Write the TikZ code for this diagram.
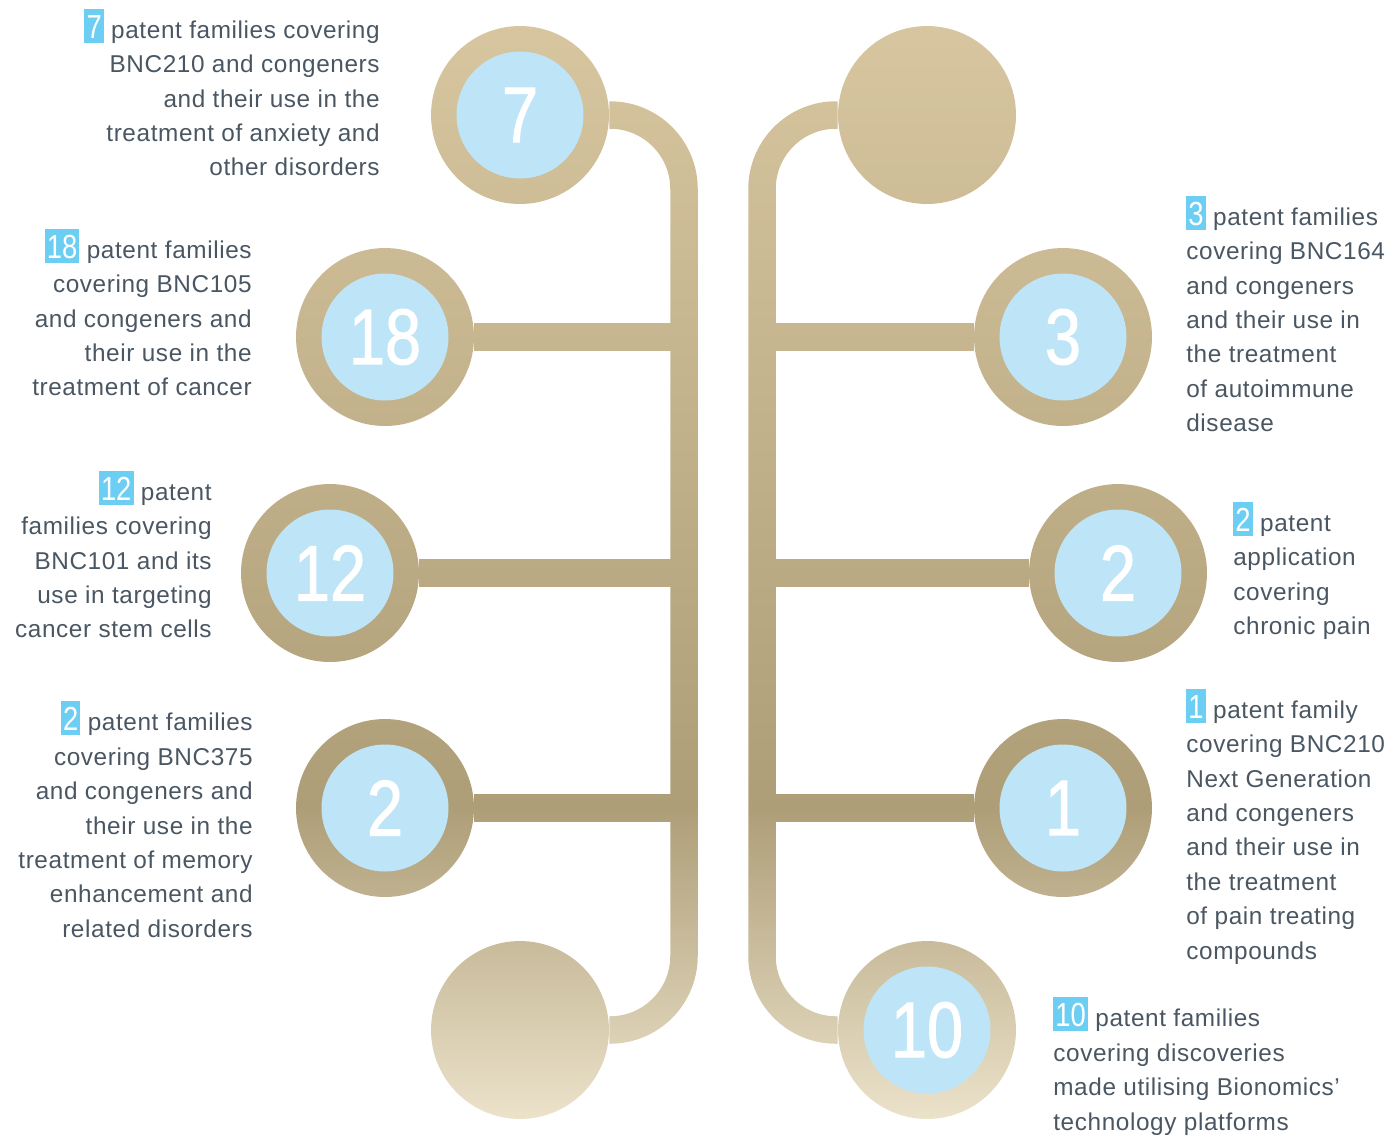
\documentclass[tikz,border=0pt]{standalone}
\usepackage{fontspec}
\setmainfont{Liberation Sans}[LetterSpace=2.5]
\newfontfamily\numfont{Liberation Sans}[FakeStretch=0.82]
\newfontfamily\bignumfont{Liberation Sans}[FakeStretch=0.82, FakeBold=1.2]

\definecolor{tantop}{HTML}{D8C7A1}
\definecolor{tanmid}{HTML}{AE9E78}
\definecolor{tanbot}{HTML}{EFE6CF}
\definecolor{coreblue}{HTML}{BEE5F7}
\definecolor{hlblue}{HTML}{6DCEF4}
\definecolor{inkgray}{HTML}{4A5763}

% tan fade, darkest a little below the middle
\pgfdeclareverticalshading{tanfade}{100bp}{color(0bp)=(tanbot); color(25bp)=(tanbot); color(39.47bp)=(tanmid); color(75bp)=(tantop); color(100bp)=(tantop)}

% highlighted count in the notes
\newcommand\hlnum[1]{{\fboxsep=0pt\colorbox{hlblue}{\hspace{1.2pt}\rule[-2.6pt]{0pt}{19.3pt}{\numfont\fontsize{19}{19}\selectfont\color{white}#1}\hspace{1.2pt}}}}

\begin{document}
\begin{tikzpicture}[x=0.02cm, y=-0.02cm,
    disc/.style={circle, fill=black, inner sep=0pt, minimum size=3.56cm},
    core/.style={circle, fill=coreblue, inner sep=0pt, minimum size=2.54cm, text=white, font=\bignumfont\fontsize{45}{45}\selectfont},
    stem/.style={line width=0.55cm, black},
    notel/.style={inner sep=0pt, align=right, anchor=north east, text=inkgray, font=\fontsize{13.85}{19.6}\selectfont},
    noter/.style={inner sep=0pt, align=left, anchor=north west, text=inkgray, font=\fontsize{13.85}{19.6}\selectfont}]
        \useasboundingbox (0,0) rectangle (1400,1137);
        \fill[white] (-10,-10) rectangle (1410,1147);

        % Discs
        \node[disc] (p7)  at (520,115)  {};
        \node[disc] (top) at (927,115)  {};
        \node[disc] (p18) at (385,337)  {};
        \node[disc] (p3)  at (1063,337) {};
        \node[disc] (p12) at (330,573)  {};
        \node[disc] (p2a) at (1118,573) {};
        \node[disc] (p2b) at (385,808)  {};
        \node[disc] (p1)  at (1063,808) {};
        \node[disc] (bot) at (520,1030) {};
        \node[disc] (p10) at (927,1030) {};

        \coordinate (lbar) at (684,0);
        \coordinate (rbar) at (762,0);

        % Stems
        \draw[stem, rounded corners=1.48cm] (p7) -- (p7 -| lbar) -- (bot -| lbar) -- (bot);
        \draw[stem, rounded corners=1.48cm] (top) -- (top -| rbar) -- (p10 -| rbar) -- (p10);
        \draw[stem] (p18) -- (p18 -| lbar);
        \draw[stem] (p12) -- (p12 -| lbar);
        \draw[stem] (p2b) -- (p2b -| lbar);
        \draw[stem] (p3)  -- (p3 -| rbar);
        \draw[stem] (p2a) -- (p2a -| rbar);
        \draw[stem] (p1)  -- (p1 -| rbar);

        % Gradient over the black shapes
        \begin{scope}[blend mode=screen]
            \shade[shading=tanfade] (0,0) rectangle (1400,1137);
        \end{scope}

        % Counts
        \node[core] at (p7)  {7};
        \node[core] at (p18) {18};
        \node[core] at (p3)  {3};
        \node[core] at (p12) {12};
        \node[core] at (p2a) {2};
        \node[core] at (p2b) {2};
        \node[core] at (p1)  {1};
        \node[core] at (p10) {10};

        % Notes
        \node[notel] (t7)  at (380,8.5)  {\hlnum{7} patent families covering\\BNC210 and congeners\\and their use in the\\treatment of anxiety and\\other disorders};
        \node[notel] (t18) at (252,228.5) {\hlnum{18} patent families\\covering BNC105\\and congeners and\\their use in the\\treatment of cancer};
        \node[notel] (t12) at (212,470.5) {\hlnum{12} patent\\families covering\\BNC101 and its\\use in targeting\\cancer stem cells};
        \node[notel] (t2b) at (253,701)  {\hlnum{2} patent families\\covering BNC375\\and congeners and\\their use in the\\treatment of memory\\enhancement and\\related disorders};
        \node[noter] (t3)  at (1186,195.5) {\hlnum{3} patent families\\covering BNC164\\and congeners\\and their use in\\the treatment\\of autoimmune\\disease};
        \node[noter] (t2a) at (1233,501.5) {\hlnum{2} patent\\application\\covering\\chronic pain};
        \node[noter] (t1)  at (1186,688.5) {\hlnum{1} patent family\\covering BNC210\\Next Generation\\and congeners\\and their use in\\the treatment\\of pain treating\\compounds};
        \node[noter] (t10) at (1053,997)  {\hlnum{10} patent families\\covering discoveries\\made utilising Bionomics’\\technology platforms};
    \end{tikzpicture}
\end{document}
